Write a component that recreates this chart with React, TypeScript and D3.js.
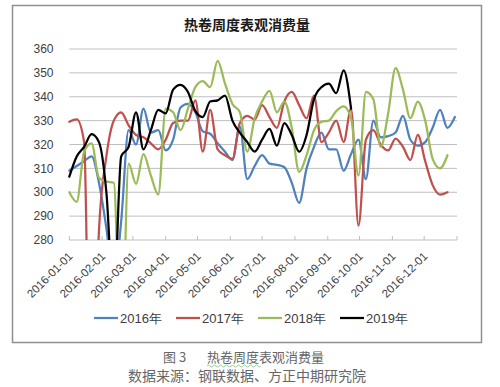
import React from 'react';
import * as d3 from 'd3';

// ---- data (weekly apparent consumption of hot-rolled coil, 万吨) ----
const seriesNames = ['2016年', '2017年', '2018年', '2019年'];
const seriesColors = ['#4F81BD', '#C0504D', '#9BBB59', '#000000'];

const values2016 = [309, 311, 313, 315, 304, 285, 262, 288, 326, 320, 335, 325, 326, 317.5, 322, 335.5, 337, 333.5, 325.5, 324.5, 320.5, 317, 313.5, 327.5, 305.5, 311, 315.5, 312, 311.5, 310.5, 304, 295.5, 310, 319, 325, 318, 318, 309, 316, 322, 305.5, 330, 323, 323.5, 325, 332, 322, 319.5, 321, 327, 334.5, 327, 331.5];
const values2017 = [329.5, 330.5, 321, 170, 284, 315, 330, 333.5, 328, 324, 323, 320.5, 318, 322, 329, 330, 330, 338.5, 317, 334.5, 318, 315.5, 314, 329, 332, 330.5, 336.5, 331.5, 327, 338, 342, 336.5, 331, 340.5, 321, 325, 330, 321, 335, 286, 322, 326, 320, 317.5, 322.5, 319, 313.5, 324, 313, 303, 299, 300];
const values2018 = [300, 296, 317, 320.5, 306, 304.5, 304, 230, 312, 303.5, 316, 307, 299, 335, 333.5, 326, 335, 344, 346.5, 344, 355, 345.5, 337, 333.5, 317, 331, 338, 342.5, 333.5, 338, 327, 308.5, 315.5, 326, 329.5, 330, 334, 336, 331, 307, 342, 339, 319, 333, 352, 343, 331, 338, 330, 314, 310, 315.5];
const values2019 = [306.5, 315, 319, 324.3, 321, 300, 255, 315, 319, 333.5, 318, 326, 334.5, 333, 343, 345, 342, 334, 331.5, 338, 338.5, 340.5, 330, 325, 321, 317, 322, 326.5, 319.5, 329, 324, 317, 324, 339, 344, 345.5, 341.5, 351, 335];
const allSeries = [values2016, values2017, values2018, values2019];

const yTicks = [280, 290, 300, 310, 320, 330, 340, 350, 360];
const monthLabels = ['2016-01-01', '2016-02-01', '2016-03-01', '2016-04-01', '2016-05-01', '2016-06-01', '2016-07-01', '2016-08-01', '2016-09-01', '2016-10-01', '2016-11-01', '2016-12-01'];
const axisStart = '2016-01-01';
const axisEnd = '2017-01-01';

const title = '热卷周度表观消费量';
const figCaptionNo = '图 3';
const figCaptionText = '热卷周度表观消费量';
const sourceText = '数据来源：钢联数据、方正中期研究院';

export default function App() {
  const W = 500, H = 387;
  const left = 69.3, right = 457, top = 49, bottom = 240;
  const parse = d3.timeParse('%Y-%m-%d');
  const start = parse(axisStart) as Date;
  const end = parse(axisEnd) as Date;
  const x = d3.scaleTime().domain([start, end]).range([left, right]);
  const y = d3.scaleLinear().domain([280, 360]).range([bottom, top]);
  const weekDate = (i: number) => d3.timeDay.offset(start, 7 * i);

  const line = d3.line<number>()
    .x((_, i) => x(weekDate(i)))
    .y((v) => y(v))
    .curve(d3.curveMonotoneX);

  const tickDates = monthLabels.map((m) => parse(m) as Date);
  const axisFont = '"Liberation Sans", Arial, sans-serif';
  const cjkFont = '"Noto Sans CJK SC", "Noto Sans", sans-serif';

  const legendX = [94, 176, 258, 340];

  return (
    <svg width={W} height={H} style={{ position: 'absolute', left: 0, top: 0, background: '#fff' }}>
      <defs>
        <clipPath id="plotClip">
          <rect x={left - 5} y={top - 10} width={right - left + 15} height={bottom - top + 10} />
        </clipPath>
      </defs>
      <rect x={0} y={0} width={W} height={H} fill="#fff" />
      <rect x={12.5} y={5.5} width={469} height={337} fill="#fff" stroke="#8f8f8f" strokeWidth={1.5} />

      <text x={247} y={30} textAnchor="middle" fontFamily={cjkFont} fontWeight="bold" fontSize={14} fill="#1a1a1a">{title}</text>

      {yTicks.map((t) => (
        <g key={t}>
          <line x1={left} x2={right} y1={y(t)} y2={y(t)} stroke="#bfbfbf" strokeWidth={1} />
          <text x={53.5} y={y(t)} dy="0.35em" textAnchor="end" fontFamily={axisFont} fontSize={12} fill="#404040">{t}</text>
        </g>
      ))}

      {[...tickDates, end].map((d, i) => (
        <line key={i} x1={x(d)} x2={x(d)} y1={bottom} y2={bottom - 4} stroke="#bfbfbf" strokeWidth={1} />
      ))}
      {tickDates.map((d, i) => (
        <text key={i} transform={`translate(${x(d) + 4},${bottom + 17}) rotate(-45)`} textAnchor="end"
          fontFamily={axisFont} fontSize={11.5} fill="#404040">{monthLabels[i]}</text>
      ))}

      <g clipPath="url(#plotClip)">
        {allSeries.map((vals, k) => (
          <path key={k} d={line(vals) || ''} fill="none" stroke={seriesColors[k]} strokeWidth={2.25}
            strokeLinejoin="round" strokeLinecap="round" />
        ))}
      </g>

      {seriesNames.map((n, k) => (
        <g key={n}>
          <line x1={legendX[k]} x2={legendX[k] + 24} y1={318} y2={318} stroke={seriesColors[k]} strokeWidth={2.25} />
          <text x={legendX[k] + 26} y={318} dy="0.36em" fontFamily={axisFont} fontSize={13} fill="#404040">{n}</text>
        </g>
      ))}

      <text y={362} fontFamily={cjkFont} fontSize={13} fill="#666">
        <tspan x={163}>{figCaptionNo}</tspan>
        <tspan x={207}>{figCaptionText}</tspan>
      </text>
      <path d="M207,366 q1.5,-2 3,0 t3,0 t3,0 t3,0 t3,0 t3,0 t3,0 t3,0 t3,0 t3,0 t3,0 t3,0 t3,0 t3,0 t3,0 t3,0 t3,0 t3,0"
        fill="none" stroke="#7fbf7f" strokeWidth={0.8} />
      <text x={128} y={381} fontFamily={cjkFont} fontSize={14} fill="#666">{sourceText}</text>
    </svg>
  );
}
